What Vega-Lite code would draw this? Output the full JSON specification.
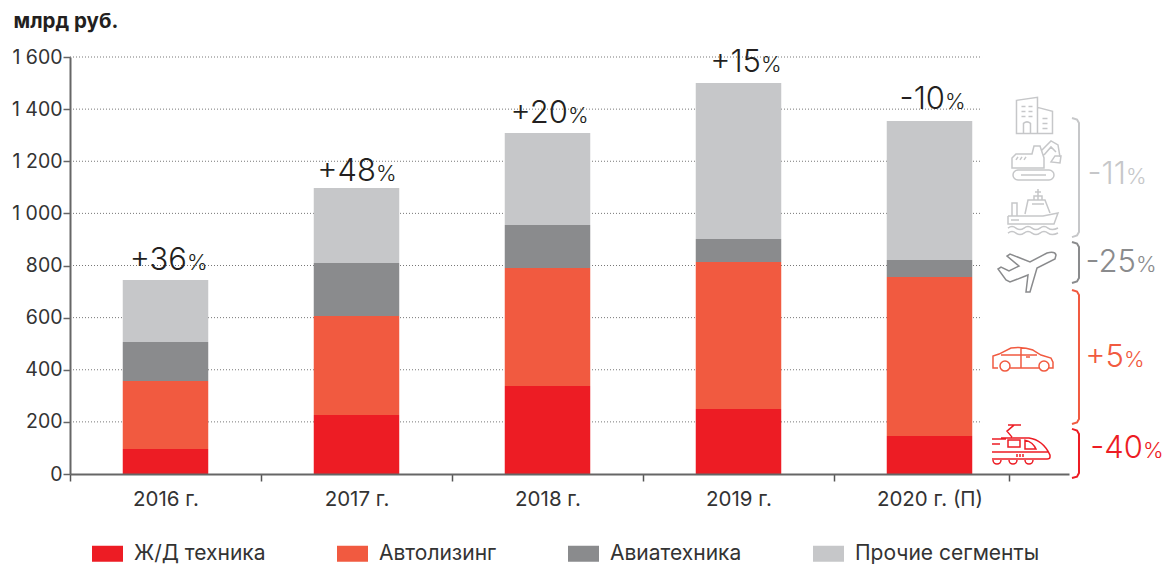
{"$schema":"https://vega.github.io/schema/vega-lite/v6.json","width":999,"height":417,"autosize":"none","padding":{"left":70,"top":57,"right":104,"bottom":92},"background":"white","config":{"font":"Inter","view":{"stroke":null}},
"datasets":{
"bars":[
{"x":2016,"y":96,"segment":"Ж/Д техника","rank":1},{"x":2016,"y":261,"segment":"Автолизинг","rank":2},{"x":2016,"y":149,"segment":"Авиатехника","rank":3},{"x":2016,"y":238,"segment":"Прочие сегменты","rank":4},
{"x":2017,"y":226,"segment":"Ж/Д техника","rank":1},{"x":2017,"y":380,"segment":"Автолизинг","rank":2},{"x":2017,"y":204,"segment":"Авиатехника","rank":3},{"x":2017,"y":287,"segment":"Прочие сегменты","rank":4},
{"x":2018,"y":338,"segment":"Ж/Д техника","rank":1},{"x":2018,"y":452,"segment":"Автолизинг","rank":2},{"x":2018,"y":165,"segment":"Авиатехника","rank":3},{"x":2018,"y":353,"segment":"Прочие сегменты","rank":4},
{"x":2019,"y":249,"segment":"Ж/Д техника","rank":1},{"x":2019,"y":564,"segment":"Автолизинг","rank":2},{"x":2019,"y":89,"segment":"Авиатехника","rank":3},{"x":2019,"y":598,"segment":"Прочие сегменты","rank":4},
{"x":2020,"y":146,"segment":"Ж/Д техника","rank":1},{"x":2020,"y":610,"segment":"Автолизинг","rank":2},{"x":2020,"y":65,"segment":"Авиатехника","rank":3},{"x":2020,"y":533,"segment":"Прочие сегменты","rank":4}],
"grid":[{"x":2015.5,"x2":2020.275,"y":200},{"x":2015.5,"x2":2020.275,"y":400},{"x":2015.5,"x2":2020.275,"y":600},{"x":2015.5,"x2":2020.275,"y":800},{"x":2015.5,"x2":2020.275,"y":1000},{"x":2015.5,"x2":2020.275,"y":1200},{"x":2015.5,"x2":2020.275,"y":1400},{"x":2015.5,"x2":2020.275,"y":1600}],
"growth":[{"x":2016.1126,"y":783,"label":"+36","pct":"%"},{"x":2017.1021,"y":1124,"label":"+48","pct":"%"},{"x":2018.1073,"y":1347,"label":"+20","pct":"%"},{"x":2019.1178,"y":1542,"label":"+15","pct":"%"},{"x":2020.0812,"y":1401,"label":"-10","pct":"%"}],
"change":[{"x":2021.0288,"y":1113,"label":"-11","pct":"%","segment":"Прочие сегменты"},{"x":2021.0812,"y":775,"label":"-25","pct":"%","segment":"Авиатехника"},{"x":2021.0183,"y":411,"label":"+5","pct":"%","segment":"Автолизинг"},{"x":2021.1178,"y":61,"label":"-40","pct":"%","segment":"Ж/Д техника"}],
"icons":[{"x":2020.5497,"y":1376,"icon":"building","segment":"Прочие сегменты"},{"x":2020.5576,"y":1205,"icon":"excavator","segment":"Прочие сегменты"},{"x":2020.5419,"y":1009,"icon":"ship","segment":"Прочие сегменты"},{"x":2020.5105,"y":775,"icon":"plane","segment":"Авиатехника"},{"x":2020.4895,"y":441,"icon":"car","segment":"Автолизинг"},{"x":2020.4791,"y":107,"icon":"train","segment":"Ж/Д техника"}],
"braces":[
{"x":2020.7461,"y":1366,"segment":"Прочие сегменты"},{"x":2020.7723,"y":1360,"segment":"Прочие сегменты"},{"x":2020.7827,"y":1347,"segment":"Прочие сегменты"},{"x":2020.7827,"y":929,"segment":"Прочие сегменты"},{"x":2020.7723,"y":915,"segment":"Прочие сегменты"},{"x":2020.7461,"y":909,"segment":"Прочие сегменты"},
{"x":2020.7461,"y":890,"segment":"Авиатехника"},{"x":2020.7723,"y":884,"segment":"Авиатехника"},{"x":2020.7827,"y":871,"segment":"Авиатехника"},{"x":2020.7827,"y":752,"segment":"Авиатехника"},{"x":2020.7723,"y":739,"segment":"Авиатехника"},{"x":2020.7461,"y":733,"segment":"Авиатехника"},
{"x":2020.7461,"y":706,"segment":"Автолизинг"},{"x":2020.7723,"y":700,"segment":"Автолизинг"},{"x":2020.7827,"y":687,"segment":"Автолизинг"},{"x":2020.7827,"y":211,"segment":"Автолизинг"},{"x":2020.7723,"y":198,"segment":"Автолизинг"},{"x":2020.7461,"y":192,"segment":"Автолизинг"},
{"x":2020.7461,"y":173,"segment":"Ж/Д техника"},{"x":2020.7723,"y":167,"segment":"Ж/Д техника"},{"x":2020.7827,"y":153,"segment":"Ж/Д техника"},{"x":2020.7827,"y":4,"segment":"Ж/Д техника"},{"x":2020.7723,"y":-10,"segment":"Ж/Д техника"},{"x":2020.7461,"y":-15,"segment":"Ж/Д техника"}]
},
"encoding":{
"x":{"field":"x","type":"quantitative","title":null,"scale":{"domain":[2015.5,2020.7304],"nice":false,"zero":false,"padding":0},"axis":{"values":[2015.5,2016,2016.5,2017,2017.5,2018,2018.5,2019,2019.5,2020,2020.416],"labelExpr":"datum.value == 2020 ? '2020 г. (П)' : (datum.value % 1 == 0 ? datum.value + ' г.' : '')","grid":false,"domainColor":"#666666","domainWidth":2,"tickColor":"#555555","tickWidth":1.5,"tickSize":7,"tickOpacity":{"condition":{"test":"datum.value % 1 == 0 && datum.value < 2020.1","value":0},"value":1},"labelFontSize":20.5,"labelColor":"#333333","labelPadding":8,"labelOverlap":false,"labelFlush":false,"labelBound":false,"zindex":1}},
"y":{"field":"y","type":"quantitative","scale":{"domain":[0,1600],"nice":false},"axis":{"values":[0,200,400,600,800,1000,1200,1400,1600],"labelExpr":"replace(format(datum.value, ','), ',', ' ')","grid":false,"domainColor":"#666666","domainWidth":2,"tickColor":"#666666","tickWidth":1.5,"tickSize":7,"labelFontSize":19.5,"labelColor":"#333333","labelPadding":1,"title":"млрд руб.","titleAngle":0,"titleX":-57,"titleY":-30,"titleAlign":"left","titleBaseline":"alphabetic","titleFontSize":20.5,"titleFontWeight":"bold","titleColor":"#231f20","zindex":1}}
},
"layer":[
{"data":{"name":"grid"},"mark":{"type":"rule","strokeDash":[1,2],"strokeWidth":1,"color":"#777777"},"encoding":{"x2":{"field":"x2"}}},
{"data":{"name":"bars"},"mark":{"type":"bar","width":85.5},"encoding":{"order":{"field":"rank","type":"quantitative"},"color":{"field":"segment","type":"nominal","scale":{"domain":["Ж/Д техника","Автолизинг","Авиатехника","Прочие сегменты"],"range":["#ed1c24","#f15a40","#8a8b8d","#c6c7c9"]},"legend":{"orient":"none","legendX":22,"legendY":481,"direction":"horizontal","columns":4,"title":null,"symbolType":"M-1,-0.516H1V0.516H-1Z","symbolSize":961,"symbolStrokeWidth":0,"symbolOpacity":1,"labelFontSize":21,"labelColor":"#333333","labelOffset":11,"columnPadding":71,"labelLimit":300,"gridAlign":"each"}}}},
{"data":{"name":"growth"},"mark":{"type":"text","align":"right","baseline":"alphabetic","fontSize":31,"fontWeight":300,"fill":"#231f20"},"encoding":{"text":{"field":"label"}}},
{"data":{"name":"growth"},"mark":{"type":"text","align":"left","baseline":"alphabetic","fontSize":22,"fontWeight":300,"fill":"#231f20"},"encoding":{"text":{"field":"pct"}}},
{"data":{"name":"change"},"mark":{"type":"text","align":"right","baseline":"alphabetic","fontSize":31,"fontWeight":300},"encoding":{"text":{"field":"label"},"color":{"field":"segment","legend":null}}},
{"data":{"name":"change"},"mark":{"type":"text","align":"left","baseline":"alphabetic","fontSize":22,"fontWeight":300},"encoding":{"text":{"field":"pct"},"color":{"field":"segment","legend":null}}},
{"data":{"name":"braces"},"mark":{"type":"line","strokeWidth":2,"clip":false},"encoding":{"detail":{"field":"segment"},"stroke":{"field":"segment","type":"nominal","scale":{"domain":["Ж/Д техника","Автолизинг","Авиатехника","Прочие сегменты"],"range":["#ed1c24","#f15a40","#8a8b8d","#c6c7c9"]},"legend":null},"order":{"value":null}}},
{"data":{"name":"icons"},"mark":{"type":"point","filled":false,"strokeWidth":1.5,"size":4,"opacity":1},"encoding":{"shape":{"field":"icon","type":"nominal","legend":null,"scale":{"domain":["building","excavator","ship","plane","car","train"],"range":[
"M-18,18V-15L3,-18V18ZM3,-8L18,-4V18H3M-18,18H18M-11,18V8Q-7.5,5 -4,8V18M-13,-9H-9M-6,-9H-2M-13,-4H-9M-6,-4H-2M-13,1H-9M-6,1H-2M8,3H13M8,8H13M8,13H13",
"M-18,10H13A5,5 0 0 1 13,20H-18A5,5 0 0 1 -18,10ZM-15,15H10M-24,-2L-20,-6H-4L-2,-14H4L8,-2V8H-24ZM5,-9L15,-19L22,-15L24,-3M8,-5L15,-13L20,-8M19,-4L25,-4L24,3L15,2ZM-20,0L-18,-3M-16,0L-14,-3M-12,0L-10,-3",
"M-25,5V13H21L25,2L10,5H-25M-21,5V-8H-16V5M-8,3L-5,-11H12L17,2M5,-11V-22M2,-19H8M1,-11V-15H9V-11M-1,-7H11M-22,9H-14M-25,17Q-21,14 -17,17T-9,17T-1,17T7,17T15,17T25,17M-25,22Q-21,19 -17,22T-9,22T-1,22T7,22T15,22T25,22",
"M29,-17L28,-13L10,-4L3,20L-1,20L1,3L-17,10L-21,8L-29,-3L-26,-5L-18,-1L-8,-6L-20,-16L-17,-18L3,-10L20,-19Q28,-21 29,-17Z",
"M-25,9H-30V-3L-24,-5L-12,-11Q0,-13 10,-9L18,-4L28,-1L30,3V9H26M16,9H-13M-13,7A5,5 0 1 1 -23,7A5,5 0 1 1 -13,7ZM26,7A5,5 0 1 1 16,7A5,5 0 1 1 26,7ZM-22,-4H14M-2,-11V9M3,-2H7",
"M-13,-21H0M-7,-21L-14,-15L-9,-9M-20,-8H8Q22,-6 29,9V11Q29,13 26,13H-29M-29,-7H-15M-29,-2H-21M-13,-6H-1V1H-13ZM4,-6Q12,-4 15,3H4ZM-29,6H27M-4,8V11M-1,8V11M2,8V11M-28,14A4,4 0 0 0 -20,14M-12,14A4,4 0 0 0 -4,14M4,14A4,4 0 0 0 12,14"
]}},"stroke":{"field":"segment","type":"nominal","legend":null}}}
]}
